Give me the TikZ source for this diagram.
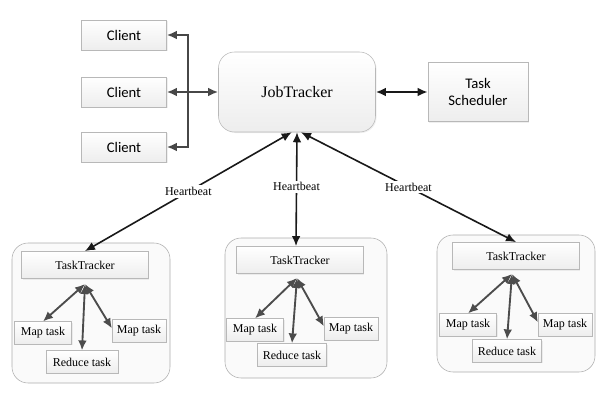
\documentclass[tikz,border=0pt]{standalone}
\usepackage{fontspec}
\setmainfont{Liberation Serif}
\newfontfamily\calfont{Carlito}
\usetikzlibrary{arrows.meta,shadows}

\tikzset{
	>={Latex[length=7.5pt,width=6.5pt]},
	box/.style={draw=black!28,top color=white,bottom color=black!7,inner sep=0pt,
		drop shadow={opacity=0.12,shadow xshift=0.8pt,shadow yshift=-0.8pt}},
	client/.style={box,font=\calfont\fontsize{11}{12}\selectfont,minimum width=63.75pt,minimum height=22.5pt},
	sched/.style={box,align=center,font=\calfont\fontsize{11}{13}\selectfont,minimum width=75pt,minimum height=44.25pt},
	jobbox/.style={box,rounded corners=12pt,font=\fontsize{12}{14}\selectfont,minimum width=117.75pt,minimum height=60pt},
	tracker/.style={box,font=\fontsize{9}{11}\selectfont,minimum width=95pt,minimum height=20.5pt},
	taskbox/.style={box,font=\fontsize{9}{11}\selectfont,inner xsep=3.5pt,minimum height=17pt},
	group/.style={draw=black!32,fill=black!2,rounded corners=12pt},
	bus/.style={draw=black!72,line width=1.6pt},
	hb/.style={draw=black!90,line width=1.2pt},
	sub/.style={draw=black!70,line width=1.4pt},
	hblabel/.style={fill=white,inner sep=1.5pt,font=\fontsize{9}{11}\selectfont}
}

\begin{document}
\begin{tikzpicture}[x=0.75pt,y=-0.75pt]
			\useasboundingbox (0,0) rectangle (600,400);
			\fill [white] (0,0) rectangle (600,400);

			\node [client] (c1) at(124,35) {Client};
			\node [client] (c2) at(124,92) {Client};
			\node [client] (c3) at(124,147) {Client};
			\node [jobbox] (jt) at(297,92) {JobTracker};
			\node [sched] (ts) at(478,92) {Task\\Scheduler};

			\coordinate (bt) at(188,35);
			\coordinate (bb) at(188,147);
			\draw [bus,<->] (c1.east) -- (bt) -- (bb) -- (c3.east);
			\draw [bus,<->] (c2.east) -- (jt.west);
			\draw [bus,black!90,<->] (jt.east) -- (ts.west);

			\draw [group] (12,243) rectangle (170,383);
			\node [tracker] (tt1) at(85,265) {TaskTracker};
			\node [taskbox,minimum width=42.75pt] (ml1) at(43,333) {Map task};
			\node [taskbox,minimum width=39pt] (mr1) at(139,331) {Map task};
			\node [taskbox,minimum width=54pt] (rd1) at(82,362) {Reduce task};
			\coordinate (h1) at(85,284);
			\draw [sub,<->] (h1) -- (ml1.north);
			\draw [sub,<->] (h1) -- (rd1.north);
			\draw [sub,<->] (h1) -- ([yshift=2pt]mr1.west);

			\draw [group] (225,238) rectangle (387,378);
			\node [tracker] (tt2) at(300,260) {TaskTracker};
			\node [taskbox,minimum width=42.75pt] (ml2) at(255,330) {Map task};
			\node [taskbox,minimum width=39pt] (mr2) at(351,329) {Map task};
			\node [taskbox,minimum width=52pt] (rd2) at(292,355) {Reduce task};
			\coordinate (h2) at(297,278);
			\draw [sub,<->] (h2) -- (ml2.north);
			\draw [sub,<->] (h2) -- (rd2.north);
			\draw [sub,<->] (h2) -- ([yshift=2pt]mr2.west);

			\draw [group] (437,235) rectangle (595,372);
			\node [tracker] (tt3) at(516,256) {TaskTracker};
			\node [taskbox,minimum width=42.75pt] (ml3) at(468,325) {Map task};
			\node [taskbox,minimum width=39pt] (mr3) at(565,325) {Map task};
			\node [taskbox,minimum width=52pt] (rd3) at(507,351) {Reduce task};
			\coordinate (h3) at(512,274);
			\draw [sub,<->] (h3) -- (ml3.north);
			\draw [sub,<->] (h3) -- (rd3.north);
			\draw [sub,<->] (h3) -- ([yshift=2pt]mr3.west);

			\draw [hb,<->] ([xshift=-4pt]jt.south) -- node [hblabel] {Heartbeat} (tt1.north);
			\draw [hb,<->] (jt.south) -- node [hblabel,pos=0.48] {Heartbeat} ([xshift=-3pt]tt2.north);
			\draw [hb,<->] ([xshift=3pt]jt.south) -- node [hblabel] {Heartbeat} (tt3.north);
		\end{tikzpicture}
\end{document}
